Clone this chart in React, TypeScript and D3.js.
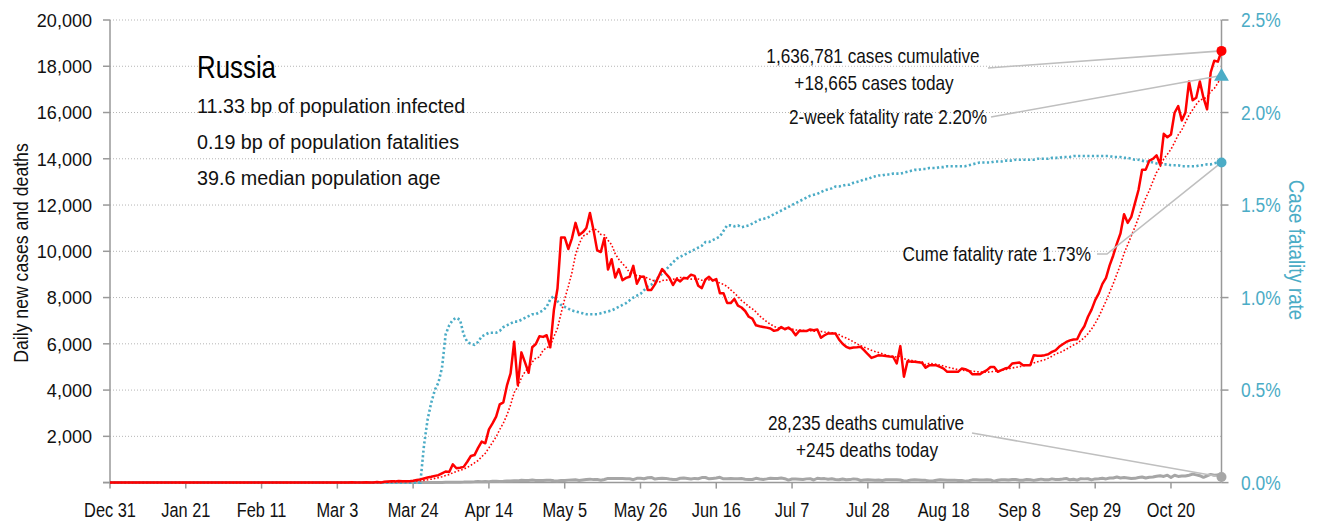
import React from "react";
import * as d3 from "d3";

// ---------- data ----------
const START = new Date(2019, 11, 31); // day 0 = Dec 31
const LAST_DAY = 308; // last plotted day (axis end)

// sporadic early imported cases: [day, cases]
const earlyCases: [number, number][] = [[32, 2]];

// daily new cases, day 60 .. day 308
const casesStartDay = 60;
const dailyCases = [
  0, 0, 1, 0, 0, 4, 0, 10, 3, 6,
  3, 11, 6, 4, 30, 0, 33, 52, 54, 53,
  71, 57, 57, 60,
  80, 110, 140, 180, 220, 250, 290, 320, 400, 480,
  460, 790, 620, 640, 680, 900, 1150, 1190, 1500, 1770,
  1700, 2300, 2560, 2850, 3380, 3470, 4200, 4720, 6090, 4220,
  5630, 5200, 4750, 5850, 5990, 6330, 6300, 6370, 5850, 7460,
  8390, 10600, 10600, 10100, 10560, 11230, 10700, 10820, 11010, 11660,
  10900, 10040, 9970, 10570, 9210, 9660, 8870, 9230, 8750, 8850,
  8900, 9370, 8600, 8900, 8900, 8330, 8330, 8570, 8900, 9230,
  9040, 8860, 8540, 8800, 8700, 8850, 8840, 8990, 8940, 8510,
  8410, 8780, 8900, 8730, 8800, 8190, 8190, 7770, 7760, 7940,
  7650, 7570, 7420, 7170, 7090, 6800, 6760, 6730, 6700, 6660,
  6560, 6600, 6730, 6630, 6700, 6590, 6370, 6560, 6550, 6550,
  6620, 6590, 6620, 6260, 6370, 6450, 6450, 6450, 6190, 6000,
  5870, 5810, 5840, 5850, 5870, 5720, 5550, 5390, 5450, 5510,
  5490, 5470, 5450, 5440, 5150, 5900, 4580, 5250, 5230, 5220,
  5200, 5180, 4970, 5070, 5070, 5070, 5000, 4930, 4790, 4790,
  4790, 4790, 4930, 4900, 4830, 4680, 4680, 4680, 4780, 4860,
  5000, 5000, 4790, 4860, 4930, 4970, 5150, 5170, 5190, 5070,
  5070, 5070, 5510, 5480, 5480, 5510, 5550, 5650, 5720, 5870,
  5980, 6080, 6150, 6190, 6200, 6520, 6760, 7170, 7480, 7890,
  8180, 8590, 8850, 9390, 9820, 10330, 10770, 11600, 11230, 11490,
  12070, 12650, 13530, 13530, 13920, 14000, 14150, 13750, 15080, 14930,
  15050, 15990, 16280, 15660, 16000, 17340, 16530, 16640, 17340, 16640,
  16140, 17730, 18240, 18200, 18665,
];

// daily deaths, day 84 .. day 308
const deathsStartDay = 84;
const dailyDeaths = [
  1, 2, 0, 3, 2, 4, 6, 8, 5, 10,
  12, 13, 15, 18, 21, 30, 28, 33, 45, 40,
  50, 42, 57, 60, 51, 58, 72, 66, 82, 75,
  98, 88, 95, 108, 94, 96, 86, 101, 99, 76,
  70, 88, 96, 107, 115, 119, 94, 114, 137, 150,
  129, 139, 102, 132, 181, 172, 174, 174, 173, 162,
  164, 125, 187, 192, 166, 211, 225, 153, 177, 183,
  182, 155, 139, 136, 186, 198, 176, 155, 182, 169,
  216, 220, 164, 180, 198, 230, 164, 168, 180, 168,
  163, 175, 148, 132, 135, 185, 154, 136, 161, 192,
  176, 175, 198, 168, 108, 155, 154, 147, 132, 161,
  171, 112, 189, 171, 172, 147, 165, 135, 121, 154,
  122, 129, 161, 148, 91, 116, 121, 114, 104, 109,
  94, 119, 128, 118, 124, 115, 70, 85, 110, 124,
  112, 103, 97, 68, 69, 98, 121, 114, 101, 103,
  107, 86, 90, 60, 84, 119, 121, 110, 117, 122,
  117, 56, 103, 122, 125, 115, 130, 134, 101, 103,
  130, 119, 96, 122, 150, 124, 119, 161, 138, 136,
  153, 177, 120, 146, 108, 168, 161, 167, 117, 161,
  166, 186, 160, 202, 201, 239, 200, 216, 202, 178,
  184, 222, 244, 198, 229, 239, 272, 294, 267, 320,
  223, 317, 266, 286, 283, 320, 366, 334, 300, 229,
  296, 355, 320, 334, 245,
];

// cumulative case fatality rate (%), day 86 .. day 308 (zero before)
const cfrStartDay = 86;
const cfrPct = [
  0, 0.2, 0.34, 0.43, 0.5, 0.54, 0.62, 0.8,
  0.85, 0.88, 0.89, 0.88, 0.8, 0.76, 0.75, 0.745, 0.76, 0.79,
  0.8, 0.81, 0.81, 0.81, 0.82, 0.84, 0.85, 0.86, 0.87, 0.87,
  0.88, 0.89, 0.9, 0.91, 0.91, 0.92, 0.93, 0.95, 0.99, 1.01,
  0.98, 0.96, 0.95, 0.94, 0.93, 0.925, 0.92, 0.915, 0.91, 0.91,
  0.91, 0.91, 0.915, 0.92, 0.925, 0.93, 0.94, 0.95, 0.96, 0.97,
  0.985, 1.0, 1.01, 1.02, 1.04, 1.06, 1.07, 1.09, 1.11, 1.13,
  1.15, 1.17, 1.19, 1.21, 1.22, 1.23, 1.24, 1.25, 1.26, 1.27,
  1.28, 1.3, 1.3, 1.31, 1.32, 1.33, 1.36, 1.39, 1.39, 1.385,
  1.39, 1.38, 1.385, 1.39, 1.4, 1.41, 1.42, 1.425, 1.43, 1.44,
  1.45, 1.46, 1.47, 1.48, 1.49, 1.5, 1.51, 1.52, 1.53, 1.54,
  1.55, 1.555, 1.56, 1.57, 1.58, 1.585, 1.59, 1.6, 1.6, 1.605,
  1.61, 1.61, 1.62, 1.625, 1.63, 1.64, 1.64, 1.65, 1.655, 1.66,
  1.66, 1.665, 1.665, 1.67, 1.67, 1.67, 1.675, 1.68, 1.685, 1.69,
  1.69, 1.695, 1.695, 1.7, 1.7, 1.7, 1.705, 1.705, 1.71, 1.71,
  1.71, 1.71, 1.71, 1.71, 1.715, 1.72, 1.725, 1.73, 1.73, 1.73,
  1.73, 1.735, 1.735, 1.735, 1.74, 1.74, 1.74, 1.745, 1.745, 1.745,
  1.745, 1.745, 1.745, 1.75, 1.75, 1.75, 1.75, 1.755, 1.755, 1.755,
  1.76, 1.76, 1.76, 1.765, 1.765, 1.765, 1.765, 1.765, 1.765, 1.765,
  1.765, 1.765, 1.765, 1.765, 1.76, 1.76, 1.76, 1.755, 1.755, 1.75,
  1.745, 1.745, 1.74, 1.735, 1.735, 1.73, 1.725, 1.72, 1.72, 1.72,
  1.715, 1.715, 1.715, 1.71, 1.71, 1.71, 1.71, 1.71, 1.715, 1.715,
  1.72, 1.72, 1.725, 1.73, 1.73,
];

const twoWeekCfr = 2.2;
const cumeCfr = 1.73;
const totalCases = 1636781;
const totalDeaths = 28235;
const deathsToday = 245;

const country = "Russia";
const statLines = [
  "11.33 bp of population infected",
  "0.19 bp of population fatalities",
  "39.6 median population age",
];

const xTickDates = [
  "2019-12-31", "2020-01-21", "2020-02-11", "2020-03-03", "2020-03-24",
  "2020-04-14", "2020-05-05", "2020-05-26", "2020-06-16", "2020-07-07",
  "2020-07-28", "2020-08-18", "2020-09-08", "2020-09-29", "2020-10-20",
];
const leftTicks = [2000, 4000, 6000, 8000, 10000, 12000, 14000, 16000, 18000, 20000];
const rightTicks = [0, 0.5, 1, 1.5, 2, 2.5];

// ---------- style ----------
const FONT = "'Liberation Sans', Arial, sans-serif";
const RED = "#ff0000";
const CYAN = "#4bacc6";
const GRAY = "#a6a6a6";
const AXIS = "#999999";
const LEADER = "#bfbfbf";
const INK = "#111111";

const dayDate = (d: number) => d3.timeDay.offset(START, d);

// condensed text: regular sans squeezed horizontally
function T(props: {
  x: number;
  y: number;
  size: number;
  sx: number;
  anchor?: "start" | "middle" | "end";
  fill?: string;
  rotate?: number;
  dy?: string;
  children: React.ReactNode;
}) {
  const { x, y, size, sx, anchor = "start", fill = INK, rotate = 0, dy, children } = props;
  return (
    <text
      transform={`translate(${x},${y}) rotate(${rotate}) scale(${sx},1)`}
      fontSize={size}
      textAnchor={anchor}
      fill={fill}
      dy={dy}
    >
      {children}
    </text>
  );
}

export default function App() {
  const W = 1322;
  const H = 525;
  const left = 110;
  const right = 1221.5;
  const top = 20;
  const bottom = 482.6;

  const x = d3.scaleTime().domain([START, dayDate(LAST_DAY)]).range([left, right]);
  const yL = d3.scaleLinear().domain([0, 20000]).range([bottom, top]);
  const yR = d3.scaleLinear().domain([0, 2.5]).range([bottom, top]);

  const cases: number[] = [];
  for (let d = 0; d <= LAST_DAY; d++) {
    if (d >= casesStartDay) cases.push(dailyCases[d - casesStartDay]);
    else {
      const e = earlyCases.find((p) => p[0] === d);
      cases.push(e ? e[1] : 0);
    }
  }
  const deaths: number[] = [];
  for (let d = 0; d <= LAST_DAY; d++) deaths.push(d >= deathsStartDay ? dailyDeaths[d - deathsStartDay] : 0);
  const cfr: number[] = [];
  for (let d = 0; d <= LAST_DAY; d++) cfr.push(d >= cfrStartDay ? cfrPct[d - cfrStartDay] : 0);
  const trend = cases.map((_, i) => d3.mean(cases.slice(Math.max(0, i - 6), i + 1)) as number);

  const lineL = d3
    .line<number>()
    .x((_, i) => x(dayDate(i)))
    .y((v) => yL(v));
  const lineR = d3
    .line<number>()
    .x((_, i) => x(dayDate(i)))
    .y((v) => yR(v));

  const fmtDate = d3.timeFormat("%b %-d");
  const fmtNum = d3.format(",");
  const fmtPct = (v: number) => d3.format(".1f")(v) + "%";

  const endX = x(dayDate(LAST_DAY));
  const endCaseY = yL(cases[LAST_DAY]);
  const endDeathY = yL(deaths[LAST_DAY]);
  const endCfrY = yR(cfr[LAST_DAY]);
  const twoWkY = yR(twoWeekCfr);

  const tri = d3.symbol().type(d3.symbolTriangle).size(95)();

  return (
    <svg
      width={W}
      height={H}
      style={{ position: "absolute", left: 0, top: 0, background: "#fff" }}
      fontFamily={FONT}
    >
      {/* grid */}
      {leftTicks.map((t) => (
        <line
          key={"g" + t}
          x1={left}
          x2={right}
          y1={yL(t)}
          y2={yL(t)}
          stroke="#b5b5b5"
          strokeWidth={1}
          strokeDasharray="1 2"
        />
      ))}

      {/* axes */}
      <line x1={left} x2={left} y1={top} y2={bottom} stroke={AXIS} strokeWidth={1.5} />
      <line x1={right} x2={right} y1={top} y2={bottom} stroke={AXIS} strokeWidth={1.5} />
      <line x1={left - 7} x2={right} y1={bottom} y2={bottom} stroke={AXIS} strokeWidth={1.5} />

      {[0, ...leftTicks].map((t) => (
        <line key={"lt" + t} x1={left - 7} x2={left} y1={yL(t)} y2={yL(t)} stroke={AXIS} strokeWidth={1.5} />
      ))}
      {leftTicks.map((t) => (
        <T key={"ll" + t} x={92} y={yL(t)} dy="0.36em" anchor="end" size={19} sx={0.95}>
          {fmtNum(t)}
        </T>
      ))}

      {rightTicks.map((t) => (
        <line key={"rt" + t} x1={right} x2={right + 7} y1={yR(t)} y2={yR(t)} stroke={AXIS} strokeWidth={1.5} />
      ))}
      {rightTicks.map((t) => (
        <T key={"rl" + t} x={1241} y={yR(t)} dy="0.36em" size={20.5} sx={0.85} fill={CYAN}>
          {fmtPct(t)}
        </T>
      ))}

      {xTickDates.map((s) => {
        const dt = d3.timeParse("%Y-%m-%d")(s) as Date;
        const px = x(dt);
        return (
          <g key={s}>
            <line x1={px} x2={px} y1={bottom} y2={bottom + 6} stroke={AXIS} strokeWidth={1.5} />
            <T x={px} y={516.5} anchor="middle" size={19.5} sx={0.84}>
              {fmtDate(dt)}
            </T>
          </g>
        );
      })}

      <T x={21} y={253} rotate={-90} anchor="middle" dy="0.35em" size={21} sx={0.84}>
        Daily new cases and deaths
      </T>
      <T x={1297} y={250} rotate={90} anchor="middle" dy="0.35em" size={21.5} sx={0.87} fill={CYAN}>
        Case fatality rate
      </T>

      {/* series */}
      <path d={lineL(deaths) || ""} fill="none" stroke={GRAY} strokeWidth={3} strokeLinejoin="round" />
      <path d={lineR(cfr) || ""} fill="none" stroke={CYAN} strokeWidth={2.6} strokeDasharray="2.2 2.4" />
      <path d={lineL(trend) || ""} fill="none" stroke={RED} strokeWidth={1.6} strokeDasharray="1.6 2" />
      <path d={lineL(cases) || ""} fill="none" stroke={RED} strokeWidth={2.5} strokeLinejoin="round" />

      {/* leader lines */}
      <g stroke={LEADER} strokeWidth={1.6} fill="none">
        <polyline points={`988,68 ${endX},${endCaseY}`} />
        <polyline points={`991,117 ${endX},${twoWkY}`} />
        <polyline points={`1097,254 1107,254 ${endX},${endCfrY}`} />
        <polyline points={`972,433 ${endX},${endDeathY}`} />
      </g>

      {/* end markers */}
      <circle cx={endX} cy={endDeathY} r={5} fill={GRAY} />
      <circle cx={endX} cy={endCfrY} r={5} fill={CYAN} />
      <path d={tri || ""} transform={`translate(${endX},${twoWkY + 1})`} fill={CYAN} />
      <circle cx={endX} cy={endCaseY} r={5} fill={RED} />

      {/* annotations */}
      <T x={873} y={63} anchor="middle" size={21} sx={0.82}>
        {fmtNum(totalCases)} cases cumulative
      </T>
      <T x={874} y={90} anchor="middle" size={21} sx={0.82}>
        +{fmtNum(cases[LAST_DAY])} cases today
      </T>
      <T x={987} y={124} anchor="end" size={21} sx={0.82}>
        2-week fatality rate {twoWeekCfr.toFixed(2)}%
      </T>
      <T x={1091} y={261} anchor="end" size={21} sx={0.82}>
        Cume fatality rate {cumeCfr.toFixed(2)}%
      </T>
      <T x={866} y={430} anchor="middle" size={21} sx={0.82}>
        {fmtNum(totalDeaths)} deaths cumulative
      </T>
      <T x={867} y={456.5} anchor="middle" size={21} sx={0.82}>
        +{fmtNum(deathsToday)} deaths today
      </T>

      {/* title block */}
      <T x={197} y={78} size={31} sx={0.834} fill="#000">
        {country}
      </T>
      {statLines.map((s, i) => (
        <T key={s} x={197} y={113 + i * 36} size={21} sx={0.94}>
          {s}
        </T>
      ))}
    </svg>
  );
}
